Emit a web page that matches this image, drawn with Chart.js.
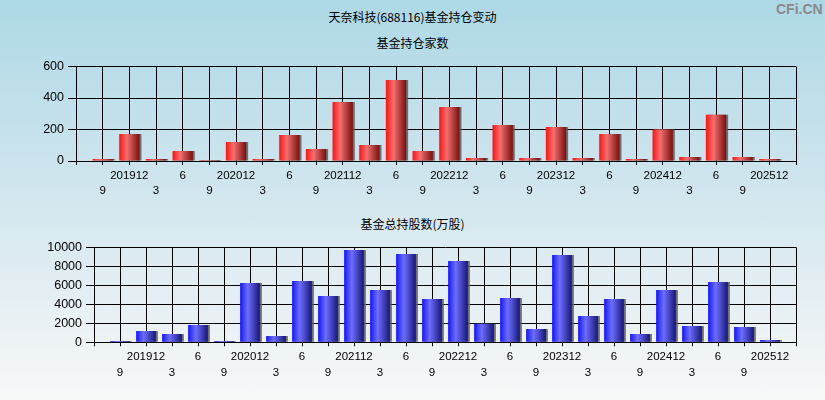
<!DOCTYPE html>
<html>
<head>
<meta charset="utf-8">
<script src="https://cdn.jsdelivr.net/npm/chart.js@4.4.1/dist/chart.umd.min.js"></script>
<style>
  html, body { margin: 0; padding: 0; }
  body {
    width: 825px; height: 400px; position: relative; overflow: hidden;
    background: linear-gradient(to bottom, #add8e6 0%, #d6e8ef 55%, #f8f8f8 100%);
    font-family: "Liberation Sans", Arial, sans-serif;
  }
  .title { position: absolute; left: 0; width: 825px; text-align: center; font-size: 12px; color: #000;
    font-family: "Noto Sans CJK SC", "Liberation Sans", sans-serif; line-height: 14px; }
  .mark { position: absolute; left: 776px; top: 1px; font: bold 14px "Liberation Sans", Arial, sans-serif; color: #8a8a8a; }
  canvas { position: absolute; left: 0; }
</style>
</head>
<body>
<div class="title" style="top:10px">天奈科技(688116)基金持仓变动</div>
<div class="title" style="top:36px">基金持仓家数</div>
<div class="title" style="top:217px">基金总持股数(万股)</div>
<div class="mark">CFi.CN</div>
<canvas id="top" width="825" height="150" style="top:50px"></canvas>
<canvas id="bottom" width="825" height="150" style="top:230px"></canvas>
<script>
// quarters 2019-09 .. 2025-12
const quarters = [
  '201909','201912','202003','202006','202009','202012','202103','202106','202109','202112',
  '202203','202206','202209','202212','202303','202306','202309','202312','202403','202406',
  '202409','202412','202503','202506','202509','202512'
];
// 基金持仓家数
const fundCount = [13,172,13,64,6,121,13,165,76,375,102,515,64,343,19,229,19,216,19,172,13,200,25,293,25,12];
// 基金总持股数(万股)
const fundShares = [140,1193,877,1825,140,6246,667,6456,4877,9719,5509,9298,4561,8561,1965,4667,1404,9193,2772,4561,877,5509,1719,6351,1614,246];

const topTicks = [0, 200, 400, 600];
const bottomTicks = [0, 2000, 4000, 6000, 8000, 10000];

// empty slot at each end, like the original frame
const labels = ['', ...quarters, ''];
const pad = arr => [null, ...arr, null];

// 12 -> full quarter on first row, 6 on first row, 3/9 on second row
function tickText(q, i) {
  if (!q) return '';
  const m = q.slice(4);
  const txt = m === '12' ? q : String(parseInt(m, 10));
  return i % 2 === 0 ? [txt] : ['', txt];
}

const BAR_PCT = 0.76;

function barFill(stops) {
  return (c) => {
    const chart = c.chart;
    const x = chart.scales.x;
    if (!x || c.type !== 'data') return stops[0][1];
    const px = x.getPixelForValue(c.dataIndex);
    const half = (x.getPixelForValue(1) - x.getPixelForValue(0)) * BAR_PCT / 2;
    if (!isFinite(px) || !isFinite(half) || half <= 0) return stops[0][1];
    const g = chart.ctx.createLinearGradient(px - half, 0, px + half, 0);
    stops.forEach(([o, col]) => g.addColorStop(o, col));
    return g;
  };
}

const shadow = {
  id: 'barShadow',
  beforeDatasetsDraw(chart) {
    const ctx = chart.ctx;
    ctx.save();
    ctx.shadowColor = 'rgba(90,90,90,0.85)';
    ctx.shadowOffsetX = 2;
    ctx.shadowOffsetY = 0;
    ctx.shadowBlur = 0;
  },
  afterDatasetsDraw(chart) { chart.ctx.restore(); }
};

function makeChart(id, values, ticks, stops, axisW, area) {
  const max = ticks[ticks.length - 1];
  return new Chart(document.getElementById(id), {
    type: 'bar',
    data: {
      labels,
      datasets: [{
        data: pad(values),
        backgroundColor: barFill(stops),
        borderWidth: 0,
        barPercentage: BAR_PCT,
        categoryPercentage: 1
      }]
    },
    plugins: [shadow],
    options: {
      responsive: false,
      animation: false,
      layout: { padding: { left: 0, right: area.right, top: area.top, bottom: 0 } },
      plugins: { legend: { display: false }, tooltip: { enabled: false } },
      scales: {
        x: {
          offset: false,
          grid: { offset: false, color: '#000', lineWidth: 1, tickLength: 4, drawTicks: true },
          border: { color: '#000', width: 1 },
          ticks: {
            autoSkip: false, maxRotation: 0, padding: 3, color: '#000',
            font: { size: 11.5, family: 'Liberation Sans', lineHeight: 1.35 },
            callback: (v, i) => tickText(labels[i], i)
          },
          afterFit: s => { s.height = area.xh; }
        },
        y: {
          min: 0, max,
          afterBuildTicks: s => { s.ticks = ticks.map(v => ({ value: v })); },
          grid: { color: '#000', lineWidth: 1, tickLength: 8 },
          border: { color: '#000', width: 1 },
          ticks: {
            padding: 4, color: '#000', font: { size: 12.5, family: 'Liberation Sans' },
            callback: v => String(v)
          },
          afterFit: s => { s.width = axisW; }
        }
      }
    }
  });
}

makeChart('top', fundCount, topTicks,
  [[0, '#ff1010'], [0.38, '#f27070'], [1, '#7a0e0e']],
  76, { right: 29, top: 16.5, xh: 39 });

makeChart('bottom', fundShares, bottomTicks,
  [[0, '#1414ff'], [0.38, '#6e6eff'], [1, '#16167a']],
  94, { right: 29, top: 17.3, xh: 37.7 });
</script>
</body>
</html>
